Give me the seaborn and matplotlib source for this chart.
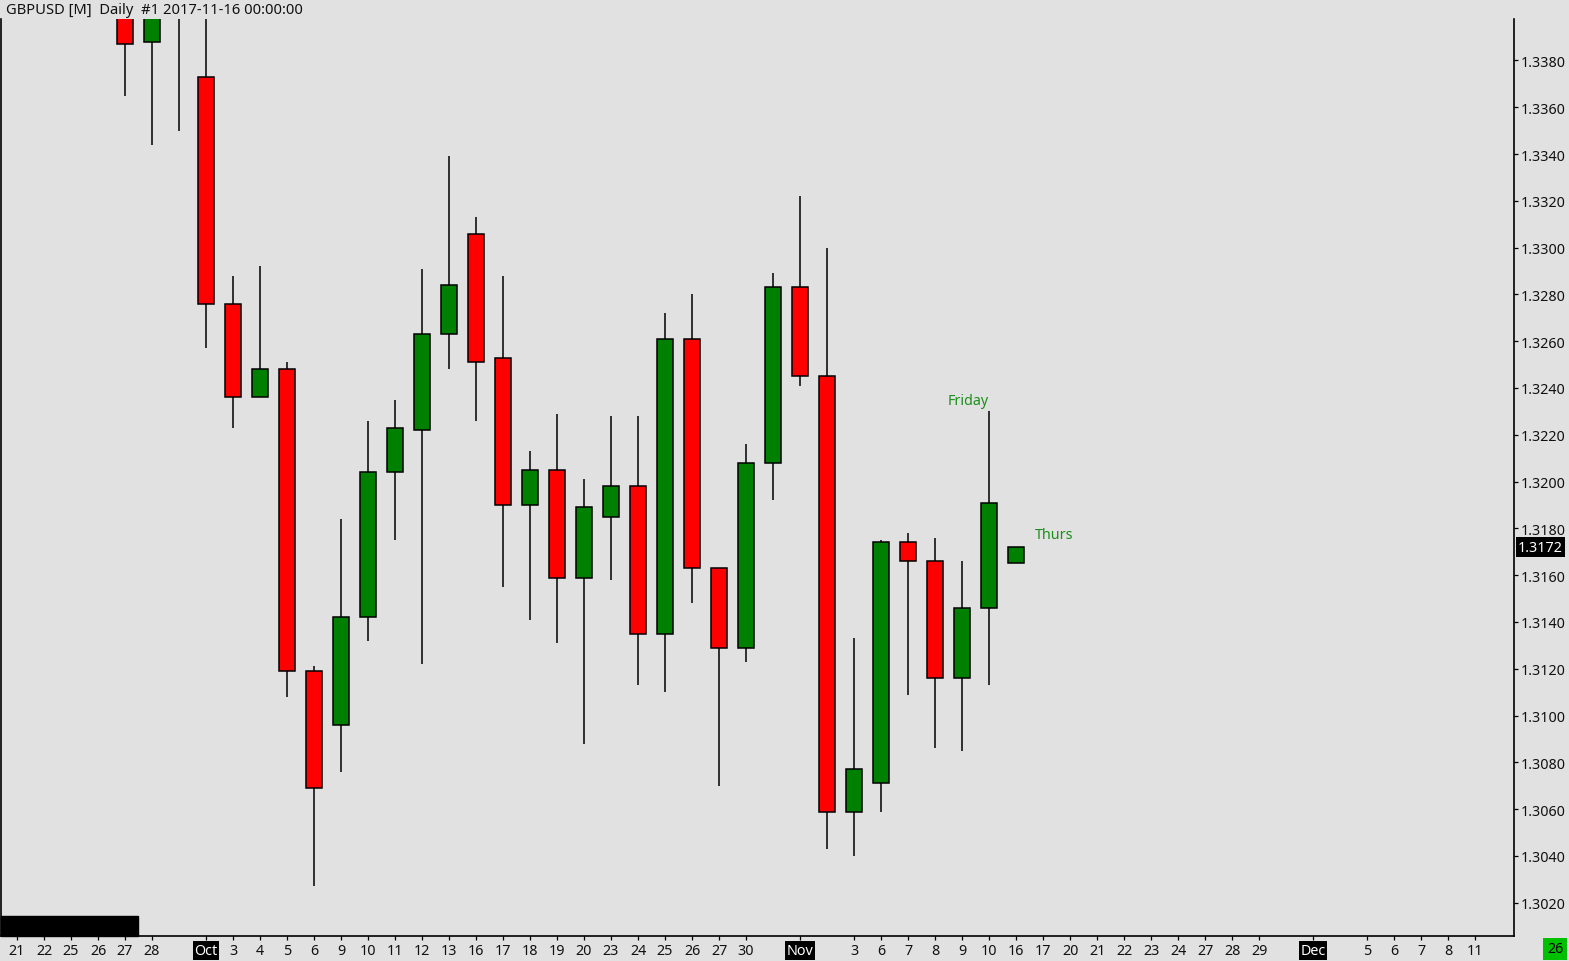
import matplotlib
matplotlib.use("Agg")
import matplotlib.pyplot as plt
import matplotlib.transforms as mtransforms
from matplotlib.patches import Rectangle
import seaborn as sns
import numpy as np

# daily GBPUSD bars, one slot per trading day shown on the chart
dates = ["21", "22", "25", "26", "27", "28", "29",
         "Oct", "3", "4", "5", "6", "9", "10", "11", "12", "13",
         "16", "17", "18", "19", "20", "23", "24", "25", "26", "27",
         "30", "31", "Nov", "2", "3", "6", "7", "8", "9", "10", "16"]
opens = [1.3520, 1.3580, 1.3500, 1.3460, 1.3440, 1.3388, 1.3410,
         1.3373, 1.3276, 1.3236, 1.3248, 1.3119, 1.3096, 1.3142, 1.3204, 1.3222, 1.3263,
         1.3306, 1.3253, 1.3190, 1.3205, 1.3159, 1.3185, 1.3198, 1.3135, 1.3261, 1.3163,
         1.3129, 1.3208, 1.3283, 1.3245, 1.3059, 1.3071, 1.3174, 1.3166, 1.3116, 1.3146, 1.3165]
highs = [1.3600, 1.3655, 1.3510, 1.3475, 1.3450, 1.3425, 1.3455,
         1.3410, 1.3288, 1.3292, 1.3251, 1.3121, 1.3184, 1.3226, 1.3235, 1.3291, 1.3339,
         1.3313, 1.3288, 1.3213, 1.3229, 1.3201, 1.3228, 1.3228, 1.3272, 1.3280, 1.3163,
         1.3216, 1.3289, 1.3322, 1.3300, 1.3133, 1.3175, 1.3178, 1.3176, 1.3166, 1.3230, 1.3172]
lows = [1.3510, 1.3450, 1.3440, 1.3405, 1.3365, 1.3344, 1.3350,
        1.3257, 1.3223, 1.3236, 1.3108, 1.3027, 1.3076, 1.3132, 1.3175, 1.3122, 1.3248,
        1.3226, 1.3155, 1.3141, 1.3131, 1.3088, 1.3158, 1.3113, 1.3110, 1.3148, 1.3070,
        1.3123, 1.3192, 1.3241, 1.3043, 1.3040, 1.3059, 1.3109, 1.3086, 1.3085, 1.3113, 1.3165]
closes = [1.3580, 1.3500, 1.3460, 1.3440, 1.3387, 1.3410, 1.3400,
          1.3276, 1.3236, 1.3248, 1.3119, 1.3069, 1.3142, 1.3204, 1.3223, 1.3263, 1.3284,
          1.3251, 1.3190, 1.3205, 1.3159, 1.3189, 1.3198, 1.3135, 1.3261, 1.3163, 1.3129,
          1.3208, 1.3283, 1.3245, 1.3059, 1.3077, 1.3174, 1.3166, 1.3116, 1.3146, 1.3191, 1.3172]

# empty future slots on the time axis
future_dates = ["17", "20", "21", "22", "23", "24", "27", "28", "29", "30",
                "Dec", "4", "5", "6", "7", "8", "11"]
unlabeled_slots = [6, 28, 30, 47, 49]   # days with no label on the axis
price_ticks = [1.3020, 1.3040, 1.3060, 1.3080, 1.3100, 1.3120, 1.3140, 1.3160, 1.3180,
               1.3200, 1.3220, 1.3240, 1.3260, 1.3280, 1.3300, 1.3320, 1.3340, 1.3360, 1.3380]

bg = "#e1e1e1"
sns.set_theme(style="white", rc={"axes.facecolor": bg, "figure.facecolor": bg})
plt.rcParams["font.family"] = ["Noto Sans", "DejaVu Sans"]

W, H = 1569, 962
fig = plt.figure(figsize=(W / 100, H / 100), dpi=100)
ax = fig.add_axes([1 / W, (H - 937) / H, 1513 / W, 917 / H])

x = np.arange(len(dates))
o = np.array(opens); c = np.array(closes)
up = c >= o
colors = np.where(up, "#008000", "#ff0000")

ax.vlines(x, lows, highs, color="black", lw=1.1, zorder=2)
ax.bar(x, np.abs(c - o), bottom=np.minimum(o, c), width=0.62, color=colors,
       edgecolor="black", linewidth=1.1, zorder=3)

ax.set_xlim(-0.593, 55.44)
ax.set_ylim(1.30058, 1.33977)

all_dates = dates + future_dates
tick_pos = [i for i in range(len(all_dates)) if i not in unlabeled_slots]

ax.yaxis.tick_right()
ax.tick_params(axis="both", which="major", direction="out", length=3, width=0.9,
               color="black", labelsize=10.3, labelcolor="#111111", pad=2)
ax.tick_params(axis="y", left=False, right=True)
ax.tick_params(axis="x", bottom=True)

ax.set_xticks(tick_pos)
ax.set_xticklabels([all_dates[i] for i in tick_pos])
for lab in ax.get_xticklabels():
    if lab.get_text() in ("Oct", "Nov", "Dec"):
        lab.set_color("white")
        lab.set_bbox(dict(facecolor="black", edgecolor="none", pad=1.2))

ax.set_yticks(price_ticks)
ax.set_yticklabels([f"{p:.4f}" for p in price_ticks])

for side in ("left", "right", "bottom"):
    ax.spines[side].set_visible(True)
    ax.spines[side].set_color("black")
    ax.spines[side].set_linewidth(1.2)
ax.spines["top"].set_visible(False)

# scroll bar block bottom-left
ax.add_patch(Rectangle((0, 0), 137 / 1513, 20 / 917, transform=ax.transAxes,
                       color="black", zorder=5, clip_on=False))

# last price marker on the price scale
trans = mtransforms.blended_transform_factory(ax.transAxes, ax.transData)
ax.text(1.0025, closes[-1], f"{closes[-1]:.4f}", transform=trans, ha="left", va="center",
        fontsize=10.3, color="white", bbox=dict(facecolor="black", edgecolor="none", pad=1.5))

ax.text(36 - 0.78, highs[36] + 0.00048, "Friday", color="#1a8f1a", fontsize=10.3,
        ha="center", va="center")
ax.text(37 + 0.7, closes[-1] + 0.00052, "Thurs", color="#1a8f1a", fontsize=10.3,
        ha="left", va="center")

fig.text(6 / W, 1 - 11 / H, "GBPUSD [M]  Daily  #1 2017-11-16 00:00:00",
         fontsize=10.6, color="#111111", ha="left", va="center")
fig.text(1555 / W, 1 - 950 / H, "26", fontsize=10.3, color="black", ha="center", va="center",
         bbox=dict(facecolor="#00c000", edgecolor="none", pad=2.5))

fig.savefig("out.png", dpi=100, facecolor=bg)
